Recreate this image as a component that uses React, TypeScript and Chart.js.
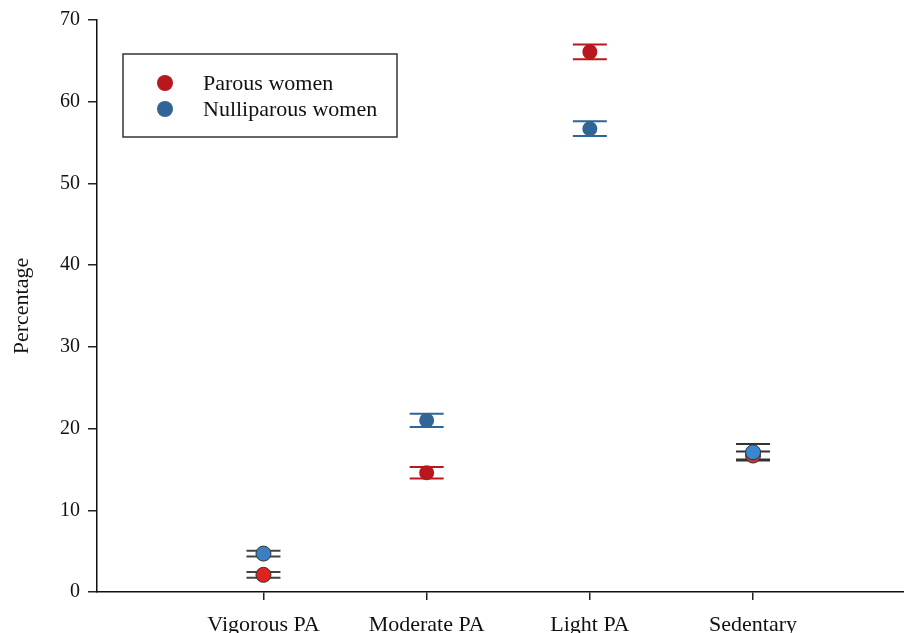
import React, { useEffect, useRef } from "react";
import { Chart, registerables } from "chart.js";

Chart.register(...registerables);

const categories = ["Vigorous PA", "Moderate PA", "Light PA", "Sedentary"];
const parousMean = [2.1, 14.6, 66.1, 16.7];
const parousErr = [0.35, 0.7, 0.9, 0.5];
const nulliparousMean = [4.7, 21.0, 56.7, 17.1];
const nulliparousErr = [0.35, 0.8, 0.9, 1.0];
const yTicks = [0, 10, 20, 30, 40, 50, 60, 70];
const seriesNames = ["Parous women", "Nulliparous women"];

const parousColors = ["#e0231f", "#b9171e", "#b9171e", "#c23a30"];
const nulliColors = ["#3a7fc4", "#2f6597", "#2f6597", "#3b86d0"];
const pointBorders = ["#333333", "rgba(0,0,0,0)", "rgba(0,0,0,0)", "#333333"];
const capColorsParous = ["#444444", "#b9171e", "#b9171e", "#333333"];
const capColorsNulli = ["#444444", "#2f6597", "#2f6597", "#333333"];

const SERIF = "'Liberation Serif', 'DejaVu Serif', serif";

const errorBarPlugin = {
  id: "errorBars",
  beforeDatasetsDraw(chart: any) {
    const { ctx, scales } = chart;
    const xs = scales.x;
    const ys = scales.y;
    const sets = [
      { mean: parousMean, err: parousErr, colors: capColorsParous },
      { mean: nulliparousMean, err: nulliparousErr, colors: capColorsNulli },
    ];
    ctx.save();
    ctx.lineWidth = 2;
    const half = 17;
    sets.forEach((s) => {
      s.mean.forEach((m, i) => {
        const x = xs.getPixelForValue(i + 1);
        const yTop = ys.getPixelForValue(m + s.err[i]);
        const yBot = ys.getPixelForValue(m - s.err[i]);
        ctx.strokeStyle = s.colors[i];
        ctx.beginPath();
        ctx.moveTo(x - half, yTop);
        ctx.lineTo(x + half, yTop);
        ctx.moveTo(x - half, yBot);
        ctx.lineTo(x + half, yBot);
        ctx.moveTo(x, yTop);
        ctx.lineTo(x, yBot);
        ctx.stroke();
      });
    });
    ctx.restore();
  },
};

const legendPlugin = {
  id: "boxLegend",
  afterDraw(chart: any) {
    const { ctx } = chart;
    ctx.save();
    const bx = 123, by = 54, bw = 274, bh = 83;
    ctx.fillStyle = "#ffffff";
    ctx.fillRect(bx, by, bw, bh);
    ctx.strokeStyle = "#333333";
    ctx.lineWidth = 1.5;
    ctx.strokeRect(bx, by, bw, bh);
    const colors = ["#b9171e", "#2f6597"];
    seriesNames.forEach((name, i) => {
      const cy = 83 + i * 26;
      ctx.fillStyle = colors[i];
      ctx.beginPath();
      ctx.arc(165, cy, 8, 0, Math.PI * 2);
      ctx.fill();
      ctx.fillStyle = "#111111";
      ctx.font = `22px ${SERIF}`;
      ctx.textAlign = "left";
      ctx.textBaseline = "middle";
      ctx.fillText(name, 203, cy + 1);
    });
    ctx.restore();
  },
};

export default function App() {
  const ref = useRef<HTMLCanvasElement | null>(null);
  useEffect(() => {
    if (!ref.current) return;
    const chart = new Chart(ref.current, {
      type: "scatter",
      data: {
        datasets: [
          {
            label: seriesNames[0],
            data: parousMean.map((v, i) => ({ x: i + 1, y: v })),
            backgroundColor: parousColors,
            borderColor: pointBorders,
            borderWidth: 1,
            pointRadius: 7.5,
            order: 1,
          },
          {
            label: seriesNames[1],
            data: nulliparousMean.map((v, i) => ({ x: i + 1, y: v })),
            backgroundColor: nulliColors,
            borderColor: pointBorders,
            borderWidth: 1,
            pointRadius: 7.5,
            order: 0,
          },
        ],
      },
      options: {
        animation: false,
        responsive: true,
        maintainAspectRatio: false,
        layout: { autoPadding: false, padding: { top: 20, right: 0, left: 0, bottom: 0 } },
        plugins: {
          legend: { display: false },
          tooltip: { enabled: false },
        },
        scales: {
          x: {
            type: "linear",
            min: -0.02,
            max: 4.925,
            afterBuildTicks: (scale: any) => {
              scale.ticks = categories.map((_, i) => ({ value: i + 1 }));
            },
            afterFit: (scale: any) => {
              scale.height = 41;
            },
            grid: {
              display: true,
              drawOnChartArea: false,
              drawTicks: true,
              tickLength: 8,
              color: "#222222",
              lineWidth: 1.5,
            },
            border: { display: true, color: "#111111", width: 1.5 },
            ticks: {
              autoSkip: false,
              maxRotation: 0,
              padding: 12,
              color: "#111111",
              font: { family: SERIF, size: 22 },
              callback: (v: any) => categories[Math.round(Number(v)) - 1] ?? "",
            },
          },
          y: {
            type: "linear",
            min: 0,
            max: 70,
            afterBuildTicks: (scale: any) => {
              scale.ticks = yTicks.map((v) => ({ value: v }));
            },
            afterFit: (scale: any) => {
              scale.width = 97;
            },
            grid: {
              display: true,
              drawOnChartArea: false,
              drawTicks: true,
              tickLength: 9,
              color: "#222222",
              lineWidth: 1.5,
            },
            border: { display: true, color: "#111111", width: 1.5 },
            title: {
              display: true,
              text: "Percentage",
              color: "#111111",
              font: { family: SERIF, size: 22 },
              padding: { top: 9, bottom: 0 },
            },
            ticks: {
              padding: 8,
              color: "#111111",
              font: { family: SERIF, size: 20 },
            },
          },
        },
      },
      plugins: [errorBarPlugin, legendPlugin],
    });
    return () => chart.destroy();
  }, []);

  return (
    <div style={{ position: "absolute", left: 0, top: 0, width: 904, height: 633, background: "#ffffff" }}>
      <canvas ref={ref} />
    </div>
  );
}
